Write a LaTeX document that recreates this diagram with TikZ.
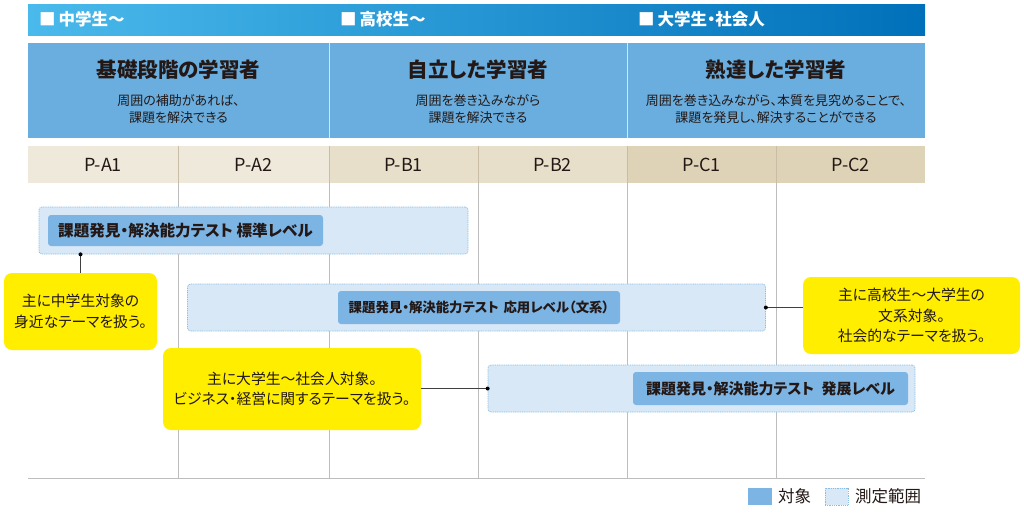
\documentclass[tikz,border=0pt]{standalone}
\usepackage{fontspec}
\setmainfont{Noto Sans CJK JP}[RawFeature=+palt]
\usetikzlibrary{positioning}
\definecolor{hdr}{HTML}{6AAEE0}
\definecolor{inner}{HTML}{7CB4E4}
\definecolor{range}{HTML}{D8E8F6}
\definecolor{rangeb}{HTML}{88BDE6}
\definecolor{colA}{HTML}{EEE9DA}
\definecolor{colB}{HTML}{E8DFCA}
\definecolor{colC}{HTML}{DED3B6}
\definecolor{coldiv}{HTML}{C9BDA6}
\definecolor{grid}{HTML}{BDBDBD}
\definecolor{ylw}{HTML}{FFEE00}
\definecolor{txt}{HTML}{231815}
\tikzset{
  toplabel/.style={text=white,font=\fontsize{16.5}{16.5}\selectfont\bfseries,anchor=west,inner sep=0},
  title/.style={text=txt,font=\fontsize{20.5}{20.5}\selectfont\bfseries,inner sep=0},
  sub/.style={text=txt,font=\fontsize{13}{17}\selectfont,align=center,inner sep=0},
  lvl/.style={text=txt,font=\fontsize{18}{18}\selectfont,inner sep=0},
  rangebox/.style={fill=range,draw=rangeb,line width=0.7pt,dash pattern=on 1pt off 0.8pt,rounded corners=3pt,inner sep=0},
  targetbox/.style={fill=inner,rounded corners=3pt,inner sep=0,text=txt,font=\fontsize{15}{15}\selectfont\bfseries},
  note/.style={fill=ylw,rounded corners=8pt,inner sep=0,text=txt,align=center,font=\fontsize{14.8}{20.5}\selectfont},
  legtext/.style={anchor=west,inner sep=0,text=txt,font=\fontsize{16.5}{16.5}\selectfont},
  gridline/.style={draw=grid,line width=0.6pt},
  conn/.style={draw=black!75,line width=0.7pt},
  dotc/.style={circle,fill=black,inner sep=0,minimum size=4pt},
}
\begin{document}
\begin{tikzpicture}[x=1pt,y=-1pt]
\useasboundingbox (0,0) rectangle (1024,514);
% top gradient bar
\shade[left color={rgb,255:red,74;green,186;blue,236}, middle color={rgb,255:red,22;green,158;blue,222}, right color={rgb,255:red,0;green,112;blue,186}] (28,4) rectangle (925,35);
\node[toplabel] (t1) at (39,19.5) {■\hspace{3pt}中学生～};
\node[toplabel] (t2) at (340,19.5) {■\hspace{3pt}高校生～};
\node[toplabel] (t3) at (638,19.5) {■\hspace{3pt}大学生・社会人};
% header band
\fill[hdr] (28,43) rectangle (925,138);
\draw[white!70!hdr,line width=1pt] (329,43) -- (329,138) (627,43) -- (627,138);
\node[title] (h1) at (178.5,70) {基礎段階の学習者};
\node[title] (h2) at (478,70) {自立した学習者};
\node[title] (h3) at (776,70) {熟達した学習者};
\node[sub] (s1) at (178.5,109.5) {周囲の補助があれば、\\課題を解決できる};
\node[sub] (s2) at (478,109.5) {周囲を巻き込みながら\\課題を解決できる};
\node[sub] (s3) at (776,109.5) {周囲を巻き込みながら、本質を見究めることで、\\課題を発見し、解決することができる};
% level row
\fill[colA] (28,146) rectangle (329,183);
\fill[colB] (329,146) rectangle (627,183);
\fill[colC] (627,146) rectangle (925,183);
\draw[coldiv,line width=0.6pt] (178,146) -- (178,183) (329,146) -- (329,183) (478,146) -- (478,183) (627,146) -- (627,183) (776,146) -- (776,183);
\node[lvl] (pa1) at (103,165) {P-A1};
\node[lvl] (pa2) at (253.5,165) {P-A2};
\node[lvl] (pb1) at (403.5,165) {P-B1};
\node[lvl] (pb2) at (552.5,165) {P-B2};
\node[lvl] (pc1) at (701.5,165) {P-C1};
\node[lvl] (pc2) at (850.5,165) {P-C2};
% grid
\draw[gridline] (178,183) -- (178,478) (329,183) -- (329,478) (478,183) -- (478,478) (627,183) -- (627,478) (776,183) -- (776,478);
\draw[gridline] (28,478) -- (925,478);
% bars
\node[rangebox,minimum width=429pt,minimum height=47pt] (r1) at (253.5,230.5) {};
\node[targetbox,minimum width=275pt,minimum height=31pt,font=\fontsize{15.6}{15.6}\selectfont\bfseries] (b1) at (185.5,230.5) {課題発見・解決能力テスト 標準レベル};
\node[rangebox,minimum width=578pt,minimum height=47pt] (r2) at (476.5,307.5) {};
\node[targetbox,minimum width=282pt,minimum height=33pt,font=\fontsize{13.4}{13.4}\selectfont\bfseries] (b2) at (479,307.5) {課題発見・解決能力テスト\hspace{0.35em}応用レベル（文系）};
\node[rangebox,minimum width=427pt,minimum height=47pt] (r3) at (701.5,388.5) {};
\node[targetbox,minimum width=275pt,minimum height=33pt] (b3) at (770.5,388.5) {課題発見・解決能力テスト\hspace{0.5em}発展レベル};
% notes
\node[note,minimum width=153pt,minimum height=77pt] (n1) at (80.5,311.5) {主に中学生対象の\\身近なテーマを扱う。};
\node[note,minimum width=217pt,minimum height=77pt] (n2) at (911.5,315.5) {主に高校生～大学生の\\文系対象。\\社会的なテーマを扱う。};
\node[note,minimum width=258pt,minimum height=82pt] (n3) at (292,389) {主に大学生～社会人対象。\\ビジネス・経営に関するテーマを扱う。};
% connectors
\coordinate (c1) at (n1.north |- r1.south);
\draw[conn] (c1) -- (n1.north);
\node[dotc] at (c1) {};
\draw[conn] (r2.east) -- (r2.east -| n2.west);
\node[dotc] at (r2.east) {};
\draw[conn] (r3.west) -- (r3.west -| n3.east);
\node[dotc] at (r3.west) {};
% legend
\node[fill=inner,minimum width=24pt,minimum height=17pt,inner sep=0] (lg1) at (760,496.5) {};
\node[legtext] (lt1) at (778,496.5) {対象};
\node[rangebox,rounded corners=0,minimum width=23pt,minimum height=17pt] (lg2) at (836.5,496.5) {};
\node[legtext] (lt2) at (855,496.5) {測定範囲};
\end{tikzpicture}
\end{document}
